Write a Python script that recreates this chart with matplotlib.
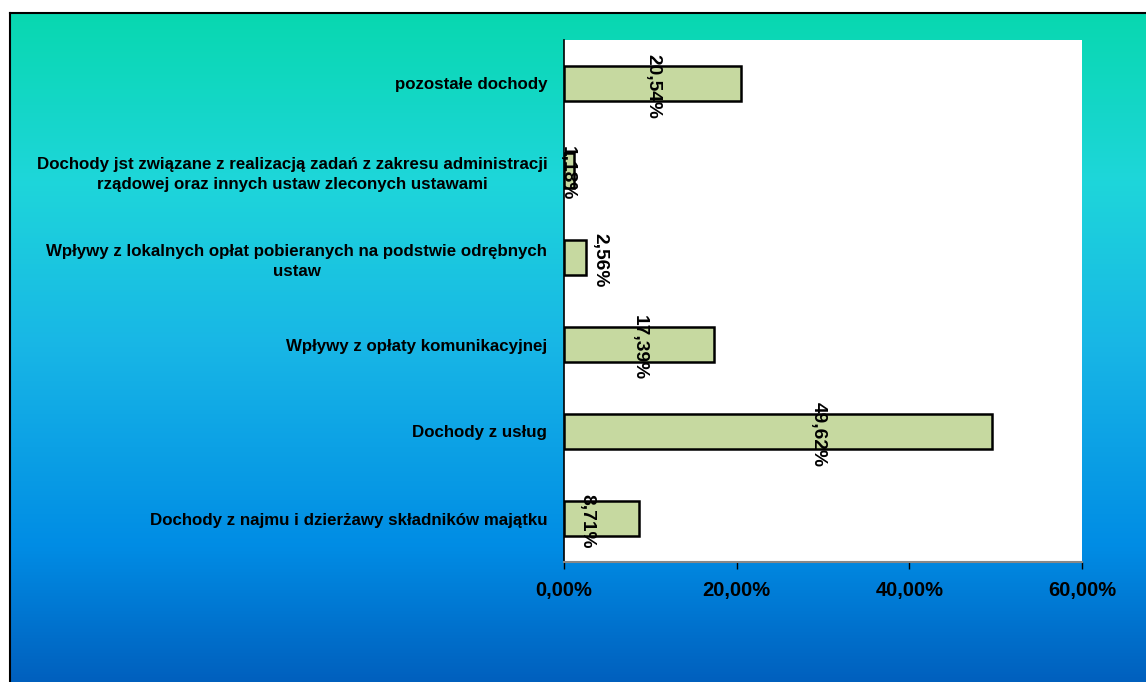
import matplotlib
matplotlib.use("Agg")
import matplotlib.pyplot as plt
import numpy as np
from matplotlib.colors import LinearSegmentedColormap
from matplotlib.ticker import FuncFormatter

categories = [
    "pozostałe dochody",
    "Dochody jst związane z realizacją zadań z zakresu administracji\nrządowej oraz innych ustaw zleconych ustawami",
    "Wpływy z lokalnych opłat pobieranych na podstwie odrębnych\nustaw",
    "Wpływy z opłaty komunikacyjnej",
    "Dochody z usług",
    "Dochody z najmu i dzierżawy składników majątku",
]
values = [20.54, 1.18, 2.56, 17.39, 49.62, 8.71]
value_labels = ["20,54%", "1,18%", "2,56%", "17,39%", "49,62%", "8,71%"]
xticks = [0, 20, 40, 60]

plt.rcParams['font.family'] = ['Liberation Sans', 'DejaVu Sans']

W, H = 1146, 682
fig = plt.figure(figsize=(W / 100, H / 100), dpi=100)
fig.patch.set_facecolor('white')

# gradient background panel
bg = fig.add_axes([10 / W, 0, (W - 10) / W, (H - 13) / H])
cmap = LinearSegmentedColormap.from_list(
    'bg', [(0.0, (8/255, 216/255, 176/255)),
           (0.25, (30/255, 214/255, 218/255)),
           (0.5, (24/255, 182/255, 230/255)),
           (0.8, (0/255, 140/255, 228/255)),
           (1.0, (0/255, 96/255, 190/255))])
grad = np.linspace(0, 1, 256).reshape(-1, 1)
bg.imshow(grad, aspect='auto', cmap=cmap, extent=[0, 1, 0, 1], origin='upper')
bg.set_xlim(0, 1)
bg.set_ylim(0, 1)
bg.set_xticks([])
bg.set_yticks([])
for s in ['top', 'left']:
    bg.spines[s].set_color('black')
    bg.spines[s].set_linewidth(1.5)
for s in ['right', 'bottom']:
    bg.spines[s].set_visible(False)

ax = fig.add_axes([564 / W, 1 - 562 / H, (1082 - 564) / W, (562 - 40) / H])
ax.set_facecolor('white')
y = np.arange(len(categories))
ax.barh(y, values, height=0.41, color='#c6d9a0', edgecolor='black', linewidth=1.8)
ax.set_xlim(0, 60)
ax.set_ylim(len(categories) - 0.5, -0.5)
ax.set_yticks(y)
ax.set_yticklabels(categories, fontsize=12.2, fontweight='bold',
                   multialignment='center', linespacing=1.45)
ax.tick_params(axis='y', length=0, pad=12)
ax.set_xticks(xticks)
ax.xaxis.set_major_formatter(FuncFormatter(lambda v, p: f"{v:.2f}%".replace('.', ',')))
ax.tick_params(axis='x', labelsize=14.5, length=5, width=1, pad=9)
for lbl in ax.get_xticklabels():
    lbl.set_fontweight('bold')
ax.spines['top'].set_visible(False)
ax.spines['right'].set_visible(False)
ax.spines['left'].set_color('black')
ax.spines['left'].set_linewidth(1.2)
ax.spines['bottom'].set_color('#888888')
ax.spines['bottom'].set_linewidth(1.5)

# value labels (rotated, reading downwards)
label_x = [v / 2 for v in values]
label_x[1] = 0.35
label_x[2] = 4.15
label_x[4] = 29.4
label_x[5] = 2.7
for xi, yi, t in zip(label_x, y, value_labels):
    ax.text(xi, yi + 0.03, t, rotation=270, ha='center', va='center',
            fontsize=13.8, fontweight='bold', color='black')

fig.savefig('out.png', dpi=100)
